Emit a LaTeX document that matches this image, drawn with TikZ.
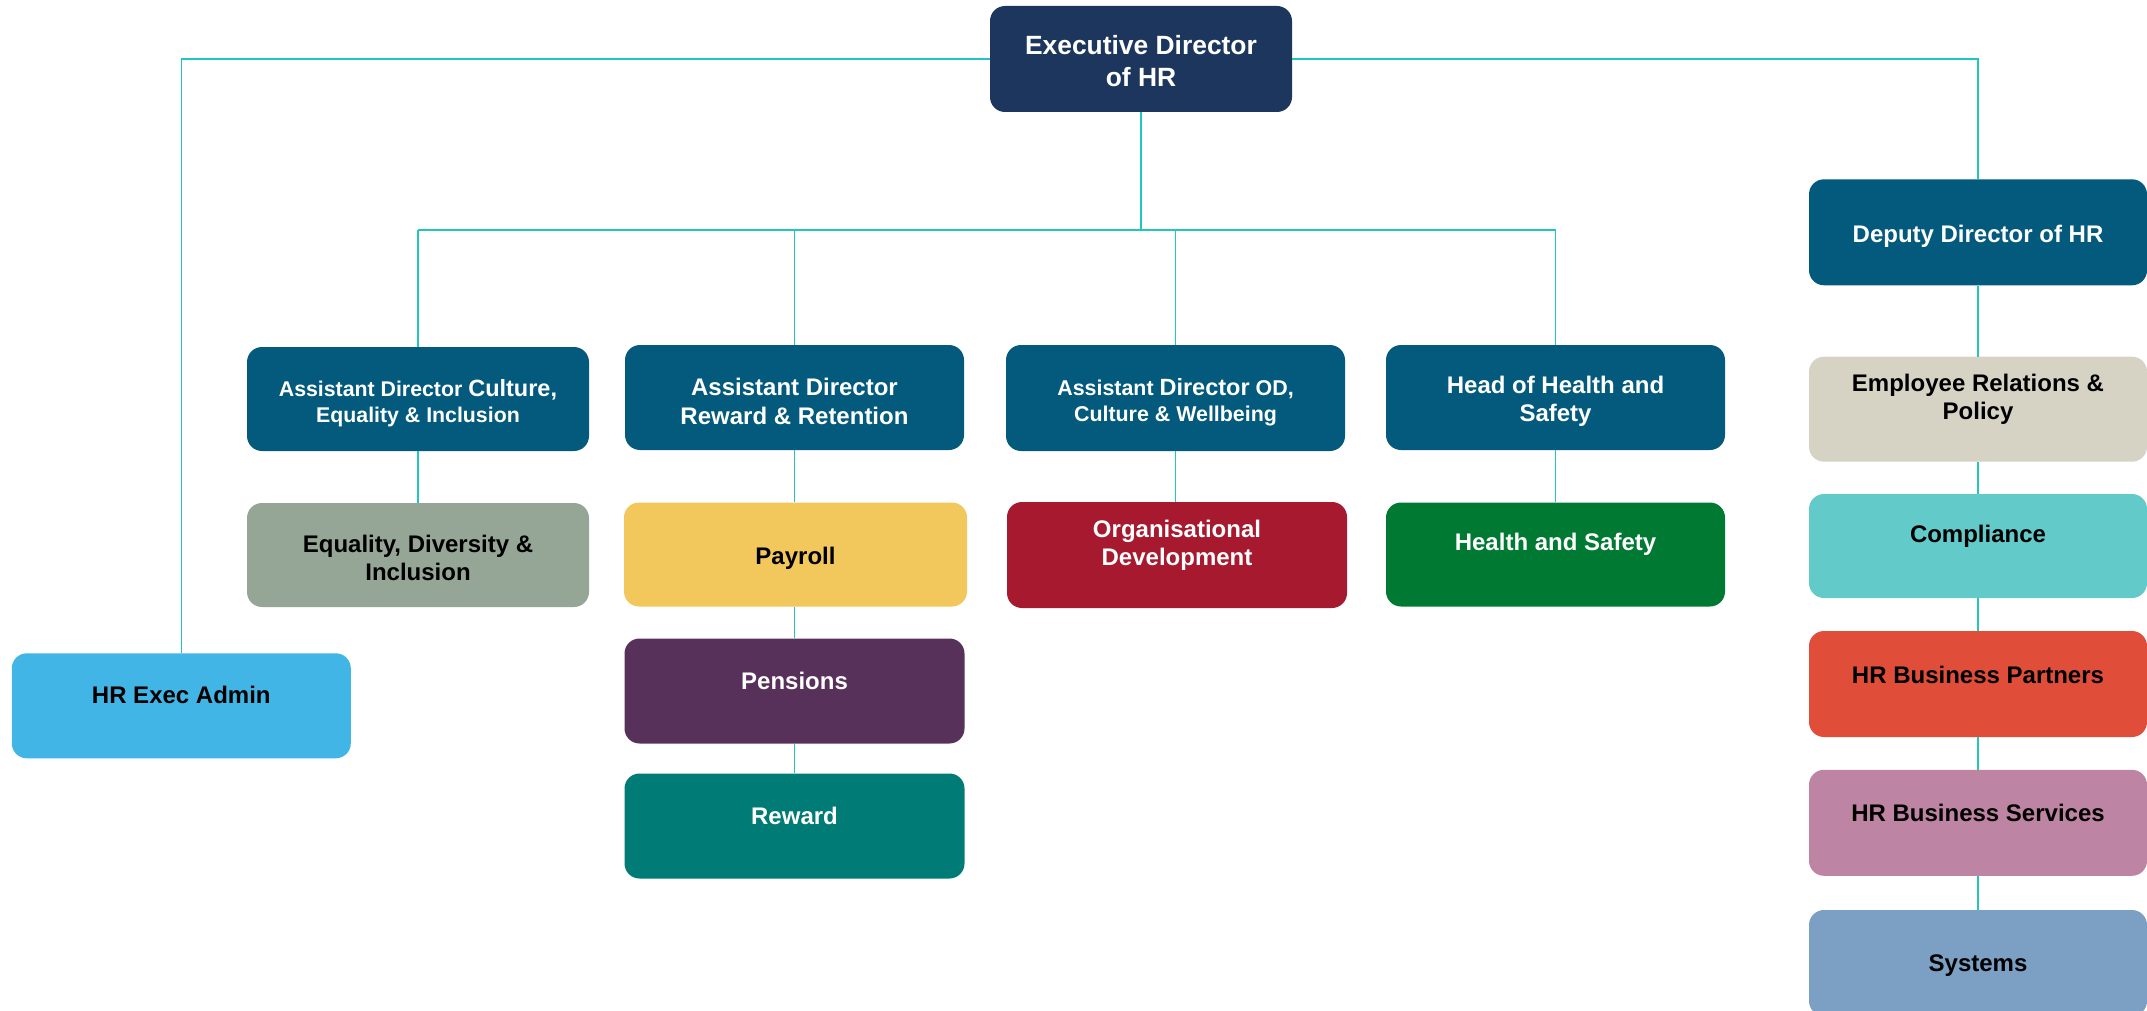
\documentclass[tikz,border=0pt]{standalone}
\usepackage{fontspec}
\setmainfont{Liberation Sans}
\definecolor{execcol}{HTML}{1C365E}
\definecolor{adcol}{HTML}{035A7D}
\definecolor{edicol}{HTML}{95A596}
\definecolor{paycol}{HTML}{F2C75C}
\definecolor{pencol}{HTML}{58315B}
\definecolor{rewcol}{HTML}{007B75}
\definecolor{orgcol}{HTML}{A6192E}
\definecolor{hscol}{HTML}{007A33}
\definecolor{admcol}{HTML}{41B6E6}
\definecolor{ercol}{HTML}{D6D2C4}
\definecolor{comcol}{HTML}{62CBC9}
\definecolor{bpcol}{HTML}{E04E39}
\definecolor{bscol}{HTML}{BE84A3}
\definecolor{syscol}{HTML}{7BA0C4}
\definecolor{linecol}{HTML}{22C6BC}
\begin{document}
\begin{tikzpicture}[x=1pt,y=-1pt,
  box/.style={draw=none, rounded corners=15pt, inner sep=0pt, minimum width=340pt, minimum height=105pt},
  txt/.style={align=center, inner sep=0pt, yshift=-2.5pt, font=\bfseries\fontsize{24}{28.5}\selectfont},
  wtxt/.style={txt, text=white},
  btxt/.style={txt, text=black},
  conn/.style={draw=linecol, line width=1.6pt}]
\useasboundingbox (0,0) rectangle (2147,1011);
% boxes
\node[box, fill=execcol, minimum width=302pt, minimum height=106pt] (exec) at (1141,59) {};
\node[box, fill=adcol, minimum width=342pt, minimum height=104pt] (adc) at (418,399) {};
\node[box, fill=adcol, minimum width=339pt] (adr) at (794.5,397.5) {};
\node[box, fill=adcol, minimum width=339pt, minimum height=106pt] (adod) at (1175.5,398) {};
\node[box, fill=adcol, minimum width=339pt] (hhs) at (1555.5,397.5) {};
\node[box, fill=edicol, minimum width=342pt, minimum height=104pt] (edi) at (418,555) {};
\node[box, fill=paycol, minimum width=343pt, minimum height=104pt] (pay) at (795.5,554.5) {};
\node[box, fill=pencol] (pen) at (794.5,691) {};
\node[box, fill=rewcol] (rew) at (794.5,826) {};
\node[box, fill=orgcol, minimum height=106pt] (org) at (1177,555) {};
\node[box, fill=hscol, minimum width=339pt, minimum height=104pt] (hs) at (1555.5,554.5) {};
\node[box, fill=admcol, minimum width=339pt] (adm) at (181.3,705.8) {};
\node[box, fill=adcol, minimum width=338pt, minimum height=106pt] (dep) at (1978,232.3) {};
\node[box, fill=ercol, minimum width=338pt] (er) at (1978,409.2) {};
\node[box, fill=comcol, minimum width=338pt, minimum height=104pt] (com) at (1978,546) {};
\node[box, fill=bpcol, minimum width=338pt, minimum height=106pt] (bp) at (1978,684) {};
\node[box, fill=bscol, minimum width=338pt, minimum height=106pt] (bs) at (1978,822.8) {};
\node[box, fill=syscol, minimum width=338pt, minimum height=106pt] (sys) at (1978,963) {};
% texts
\node[wtxt, font=\bfseries\fontsize{26.4}{31.7}\selectfont] (texec) at (1141,58.5) {Executive Director\\of HR};
\node[wtxt, font=\bfseries\fontsize{21.3}{26}\selectfont] (tadc) at (418,401) {Assistant Director {\fontsize{23.5}{26}\selectfont Culture,}\\Equality \& Inclusion};
\node[wtxt] (tadr) at (794.5,399) {Assistant Director\\Reward \& Retention};
\node[wtxt, font=\bfseries\fontsize{21.4}{26.5}\selectfont] (tadod) at (1175.5,400) {Assistant {\fontsize{23.5}{26.5}\selectfont Director} OD,\\Culture \& Wellbeing};
\node[wtxt] (thhs) at (1555.5,399) {Head of Health and\\Safety};
\node[btxt] (tedi) at (418,555.5) {Equality, Diversity \&\\Inclusion};
\node[btxt] (tpay) at (795.5,556) {Payroll};
\node[wtxt] (tpen) at (794.5,678) {Pensions};
\node[wtxt] (trew) at (794.5,813) {Reward};
\node[wtxt] (torg) at (1177,543) {Organisational\\Development};
\node[wtxt] (ths) at (1555.5,542) {Health and Safety};
\node[btxt] (tadm) at (181.3,692) {HR Exec Admin};
\node[wtxt] (tdep) at (1978,233.7) {Deputy Director of HR};
\node[btxt] (ter) at (1978,397) {Employee Relations \&\\Policy};
\node[btxt] (tcom) at (1978,534) {Compliance};
\node[btxt] (tbp) at (1978,672) {HR Business Partners};
\node[btxt] (tbs) at (1978,810.7) {HR Business Services};
\node[btxt] (tsys) at (1978,962.7) {Systems};
% connectors
\coordinate (busL) at (418,230);
\coordinate (busR) at (1555.5,230);
\draw[conn] (busL) -- (busR);
\draw[conn] (exec.south) -- (exec.south |- busL);
\draw[conn] (adc.north) -- (adc.north |- busL);
\draw[conn] (adr.north) -- (adr.north |- busL);
\draw[conn] (adod.north) -- (adod.north |- busL);
\draw[conn] (hhs.north) -- (hhs.north |- busL);
\draw[conn] (exec.west) -| (adm.north);
\draw[conn] (exec.east) -| (dep.north);
\draw[conn] (adc.south) -- (edi.north);
\draw[conn] (adr.south) -- (adr.south |- pay.north);
\draw[conn] (pay.south -| pen.north) -- (pen.north);
\draw[conn] (pen.south) -- (rew.north);
\draw[conn] (adod.south) -- (adod.south |- org.north);
\draw[conn] (hhs.south) -- (hs.north);
\draw[conn] (dep.south) -- (er.north);
\draw[conn] (er.south) -- (com.north);
\draw[conn] (com.south) -- (bp.north);
\draw[conn] (bp.south) -- (bs.north);
\draw[conn] (bs.south) -- (sys.north);
\end{tikzpicture}
\end{document}
